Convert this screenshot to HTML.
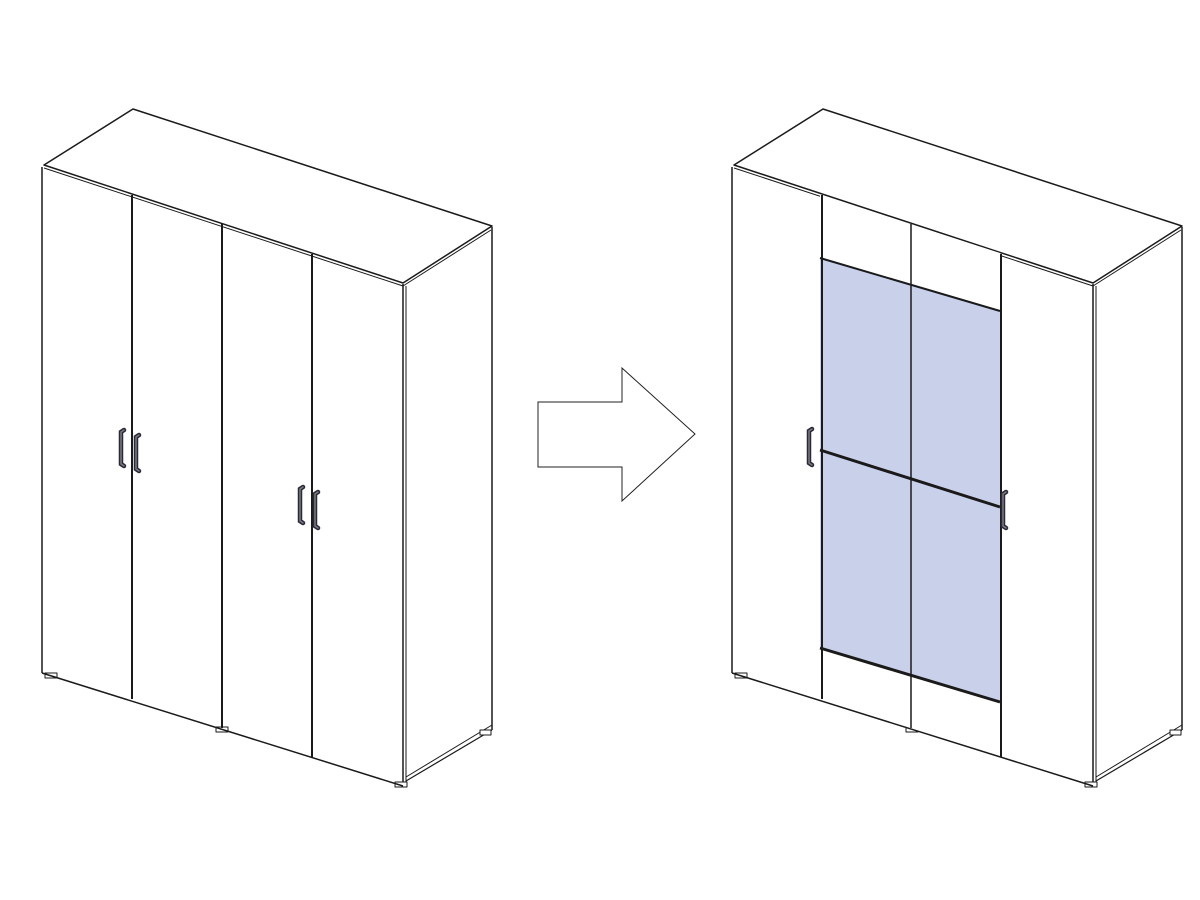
<!DOCTYPE html>
<html><head><meta charset="utf-8"><style>html,body{margin:0;padding:0;background:#fff}svg{display:block}</style></head>
<body>
<svg width="1200" height="900" viewBox="0 0 1200 900" xmlns="http://www.w3.org/2000/svg">
<defs>
<g id="body" fill="none" stroke="#1a1a1a" stroke-width="1.5" stroke-linejoin="round">
  <polygon points="44,165 133,109 492,226 403,283" fill="#fff"/>
  <line x1="44" y1="168" x2="403" y2="286" stroke-width="1"/>
  <line x1="403" y1="286" x2="491" y2="230" stroke-width="1"/>
  <line x1="42" y1="167" x2="42" y2="673"/>
  <line x1="403" y1="284" x2="403" y2="786"/>
  <line x1="406" y1="286" x2="406" y2="784" stroke-width="1"/>
  <line x1="492" y1="227" x2="492" y2="730"/>
  <line x1="406" y1="781" x2="492" y2="730" stroke-width="1.2"/>
  <line x1="406" y1="777" x2="492" y2="725" stroke-width="1"/>
  <rect x="45" y="673" width="12" height="5" fill="#fff" stroke-width="1"/>
  <rect x="216" y="727" width="12" height="5" fill="#fff" stroke-width="1"/>
  <rect x="395" y="782" width="12" height="5" fill="#fff" stroke-width="1"/>
  <rect x="480" y="730" width="11" height="5" fill="#fff" stroke-width="1"/>
</g>
<g id="front"><line x1="42" y1="673" x2="403" y2="786" stroke="#1a1a1a" stroke-width="1.5"/></g>
<g id="handle">
  <path d="M4,0 L1,2 L1,34 L4,36" fill="none" stroke="#2a2a35" stroke-width="4.5" stroke-linecap="round"/>
  <path d="M4,0 L1,2 L1,34 L4,36" fill="none" stroke="#7a7a88" stroke-width="1.5" stroke-linecap="round"/>
</g>
</defs>

<!-- LEFT WARDROBE -->
<use href="#body"/>
<use href="#front"/>
<g stroke="#1a1a1a" stroke-width="2" fill="none">
  <line x1="132" y1="195" x2="132" y2="699"/>
  <line x1="222" y1="224" x2="222" y2="728"/>
  <line x1="312" y1="254" x2="312" y2="757"/>
</g>
<use href="#handle" x="120" y="430"/>
<use href="#handle" x="135" y="435"/>
<use href="#handle" x="299" y="487"/>
<use href="#handle" x="314" y="492"/>

<!-- ARROW -->
<polygon points="538,402 622,402 622,368 695,434 622,501 622,467 538,467" fill="#fff" stroke="#222" stroke-width="1"/>

<!-- RIGHT WARDROBE -->
<g transform="translate(690,0)"><use href="#body"/></g>
<polygon points="820,258 1000,311 1000,757 820,700" fill="#c9d0ea"/>
<polygon points="820,195 1000,253 1000,311 820,258" fill="#fff"/>
<polygon points="820,648 1000,702 1000,757 820,700" fill="#fff"/>
<g transform="translate(690,0)"><use href="#front"/></g>
<g stroke="#1a1a1a" fill="none">
  <line x1="822" y1="195" x2="822" y2="699" stroke-width="2"/>
  <line x1="911" y1="224" x2="911" y2="728" stroke-width="1.5"/>
  <line x1="1001" y1="254" x2="1001" y2="757" stroke-width="2"/>
  <line x1="820" y1="258" x2="1000" y2="311" stroke-width="2"/>
  <line x1="820" y1="450" x2="1000" y2="507" stroke-width="3"/>
  <line x1="820" y1="648" x2="1000" y2="702" stroke-width="3"/>
</g>
<use href="#handle" x="808" y="429"/>
<use href="#handle" x="1002" y="492"/>
</svg>
</body></html>
